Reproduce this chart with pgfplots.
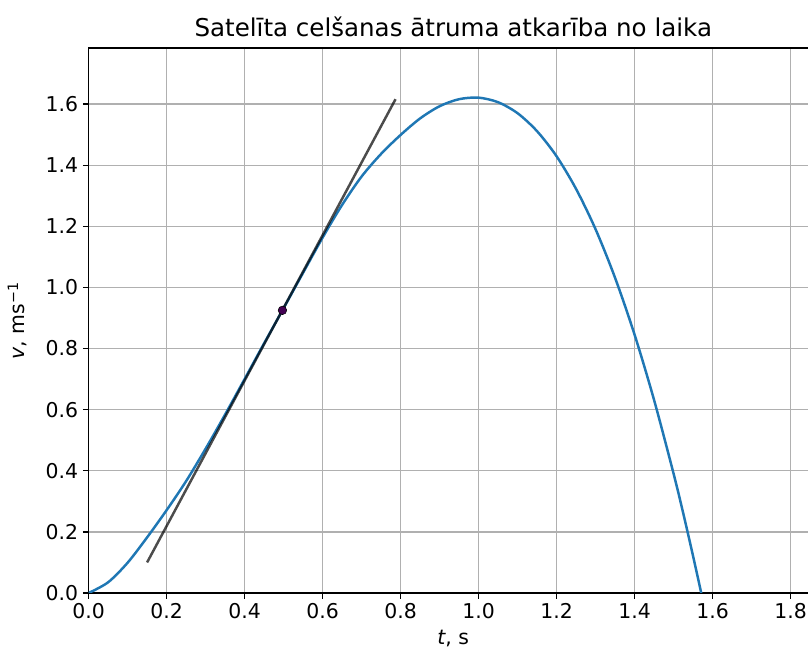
\documentclass[border=0pt]{standalone}
\usepackage{pgfplots}
\pgfplotsset{compat=1.18}
\usepackage{fontspec}
\setmainfont{DejaVu Sans}

\definecolor{mplblue}{RGB}{31,119,180}
\definecolor{dotpurple}{RGB}{68,1,84}
\definecolor{gridgray}{RGB}{176,176,176}

\begin{document}
\begin{tikzpicture}
  \begin{axis}[
    scale only axis,
    width=547pt, height=408.75pt,
    xmin=0, xmax=1.87,
    ymin=0, ymax=1.7835,
    xtick={0,0.2,0.4,0.6,0.8,1.0,1.2,1.4,1.6,1.8},
    ytick={0,0.2,0.4,0.6,0.8,1.0,1.2,1.4,1.6},
    grid=major,
    grid style={line width=0.98pt, color=gridgray},
    axis line style={line width=0.98pt},
    tick align=outside,
    tick pos=left,
    major tick length=4.3pt,
    every tick/.style={black, line width=0.98pt},
    tick label style={font=\fontsize{15.3}{17}\selectfont},
    /pgf/number format/assume math mode=true,
    /pgf/number format/.cd, fixed, fixed zerofill, precision=1,
    /pgfplots/.cd,
    every axis title shift=0pt,
    title={Satelīta celšanas ātruma atkarība no laika},
    title style={font=\fontsize{18.4}{21}\selectfont,
      at={(axis description cs:0.5,1.022)}, anchor=base},
    xlabel={\textit{t}, s},
    xlabel style={font=\fontsize{15.3}{17}\selectfont,
      at={(axis description cs:0.5,-0.0945)}, anchor=base},
    ylabel={\textit{v}, ms\textsuperscript{−1}},
    ylabel style={font=\fontsize{15.3}{17}\selectfont,
      at={(axis description cs:-0.0872,0.5)}, anchor=base},
  ]
    \coordinate (O) at (rel axis cs:0,0);

    % speed curve
    \addplot[mplblue, line width=1.85pt, smooth] coordinates {
      (0.00,0.000) (0.05,0.035) (0.10,0.099) (0.15,0.182)
      (0.20,0.271) (0.25,0.366) (0.30,0.472) (0.35,0.584)
      (0.40,0.700) (0.45,0.817) (0.50,0.932) (0.55,1.048)
      (0.60,1.163) (0.65,1.270) (0.70,1.363) (0.75,1.437)
      (0.80,1.499) (0.85,1.553) (0.90,1.593) (0.95,1.616)
      (1.00,1.621) (1.05,1.606) (1.10,1.570) (1.15,1.511)
      (1.20,1.429) (1.25,1.322) (1.30,1.190) (1.35,1.031)
      (1.40,0.845) (1.45,0.631) (1.50,0.390) (1.525,0.259)
      (1.55,0.120) (1.5708,0.000)
    };

    % tangent at t = 0.5
    \addplot[black, opacity=0.7, line width=1.85pt] coordinates {
      (0.150,0.100) (0.787,1.616)
    };

    \addplot[only marks, mark=*, mark size=3.2pt,
      mark options={fill=dotpurple, draw=black, line width=0.4pt}]
      coordinates {(0.497,0.925)};
  \end{axis}
  \pgfresetboundingbox
  \path[use as bounding box] (O) ++(-66.45pt,-42.75pt) rectangle ++(606pt,487.5pt);
\end{tikzpicture}
\end{document}
